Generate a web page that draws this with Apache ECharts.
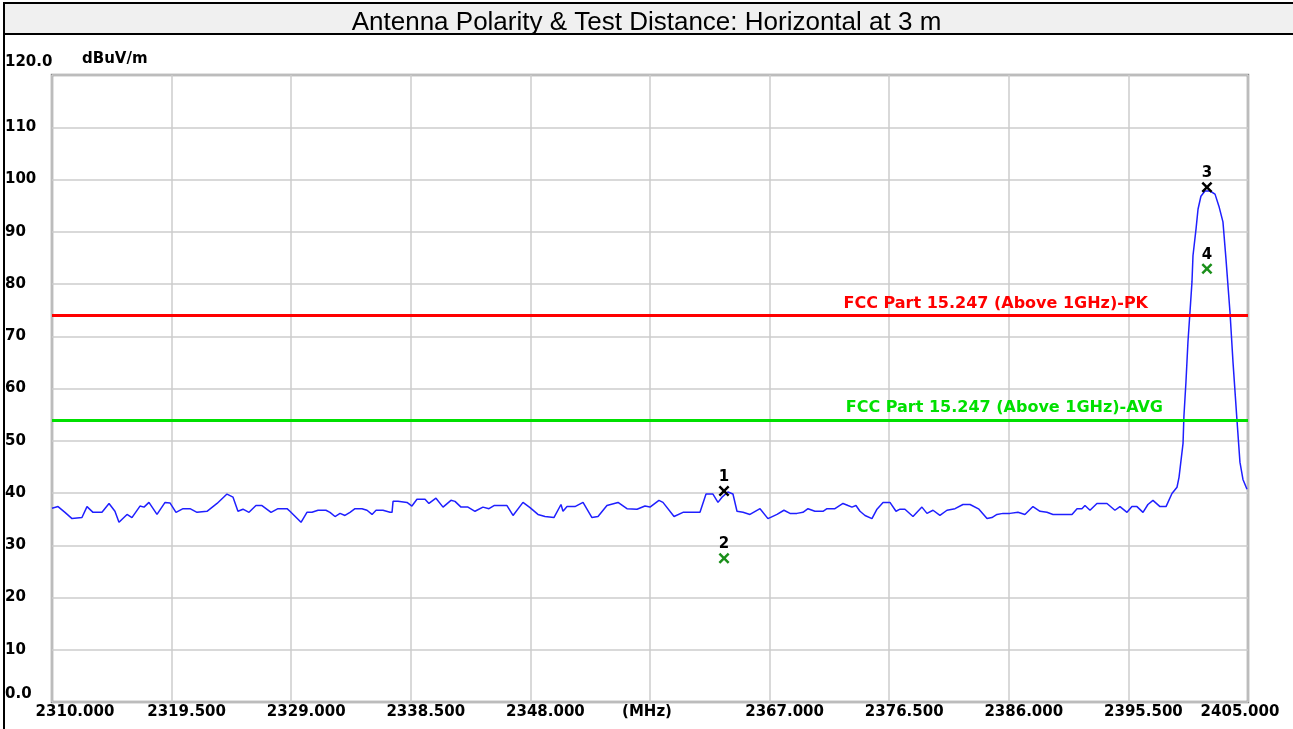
<!DOCTYPE html>
<html>
<head>
<meta charset="utf-8">
<title>Antenna Polarity & Test Distance</title>
<script src="https://cdn.jsdelivr.net/npm/echarts@6/dist/echarts.min.js"></script>
<style>
  html, body { margin: 0; padding: 0; background: #fff; }
  #chart { width: 1293px; height: 729px; }
</style>
</head>
<body>
<div id="chart"></div>
<script>
// trace (MHz, dBuV/m)
const traceFreq = [
  2310.00, 2310.48, 2311.03, 2311.59, 2312.38, 2312.78, 2313.26, 2313.97, 2314.53, 2315.00,
  2315.32, 2315.96, 2316.35, 2316.99, 2317.31, 2317.70, 2318.34, 2318.98, 2319.37, 2319.85,
  2320.41, 2320.96, 2321.52, 2322.31, 2323.11, 2323.90, 2324.38, 2324.77, 2325.17, 2325.65,
  2326.20, 2326.68, 2327.40, 2327.95, 2328.67, 2328.90, 2329.78, 2330.25, 2330.65, 2331.13,
  2331.76, 2332.08, 2332.48, 2332.88, 2333.27, 2333.67, 2334.07, 2334.62, 2335.02, 2335.42,
  2335.74, 2336.29, 2336.85, 2337.01, 2337.09, 2337.48, 2338.20, 2338.59, 2338.99, 2339.63,
  2339.94, 2340.50, 2341.06, 2341.69, 2342.01, 2342.49, 2343.04, 2343.60, 2344.23, 2344.71,
  2345.11, 2345.74, 2346.14, 2346.62, 2347.41, 2347.97, 2348.60, 2349.16, 2349.87, 2350.43,
  2350.59, 2350.91, 2351.54, 2352.18, 2352.89, 2353.37, 2354.08, 2354.96, 2355.67, 2356.47,
  2357.10, 2357.50, 2358.21, 2358.53, 2359.41, 2360.12, 2361.47, 2361.95, 2362.50, 2362.90,
  2363.22, 2363.69, 2364.09, 2364.41, 2364.89, 2365.44, 2366.24, 2366.87, 2367.59, 2368.14,
  2368.62, 2369.17, 2369.65, 2370.05, 2370.60, 2371.24, 2371.56, 2372.19, 2372.83, 2373.23,
  2373.54, 2373.86, 2374.18, 2374.58, 2375.13, 2375.53, 2376.01, 2376.56, 2377.04, 2377.36,
  2377.75, 2378.39, 2379.10, 2379.50, 2379.98, 2380.53, 2381.09, 2381.73, 2382.36, 2382.92,
  2383.63, 2384.27, 2384.66, 2385.06, 2385.54, 2386.09, 2386.73, 2387.28, 2387.92, 2388.48,
  2389.03, 2389.51, 2390.07, 2391.02, 2391.42, 2391.81, 2392.05, 2392.45, 2393.00, 2393.80,
  2394.43, 2394.83, 2395.39, 2395.78, 2396.18, 2396.66, 2397.05, 2397.45, 2398.01, 2398.49,
  2398.96, 2399.36, 2399.52, 2399.84, 2399.91, 2400.07, 2400.23, 2400.39, 2400.55, 2400.63,
  2400.87, 2401.03, 2401.26, 2401.58, 2401.98, 2402.38, 2402.69, 2403.01, 2403.25, 2403.57,
  2403.81, 2404.12, 2404.36, 2404.60, 2404.92
];
const traceLevel = [
  37.1, 37.4, 36.3, 35.1, 35.3, 37.4, 36.3, 36.3, 38.0, 36.5,
  34.4, 35.9, 35.3, 37.5, 37.3, 38.2, 35.9, 38.2, 38.1, 36.3,
  37.0, 37.0, 36.3, 36.5, 38.0, 39.8, 39.2, 36.5, 36.9, 36.3,
  37.6, 37.6, 36.3, 37.0, 37.0, 36.5, 34.4, 36.3, 36.3, 36.7,
  36.7, 36.3, 35.5, 36.1, 35.7, 36.3, 37.0, 37.0, 36.7, 35.9,
  36.7, 36.7, 36.3, 36.3, 38.4, 38.4, 38.2, 37.5, 38.8, 38.8,
  38.0, 39.0, 37.3, 38.6, 38.4, 37.3, 37.3, 36.5, 37.3, 37.0,
  37.6, 37.6, 37.6, 35.7, 38.2, 37.2, 35.9, 35.5, 35.3, 37.8,
  36.5, 37.4, 37.4, 38.2, 35.3, 35.5, 37.6, 38.2, 37.0, 36.9,
  37.5, 37.3, 38.6, 38.2, 35.5, 36.3, 36.3, 39.8, 39.8, 38.2,
  39.2, 40.2, 39.8, 36.5, 36.3, 35.9, 37.0, 35.1, 35.9, 36.7,
  36.1, 36.1, 36.3, 37.0, 36.5, 36.5, 37.0, 37.0, 38.0, 37.6,
  37.3, 37.6, 36.5, 35.7, 35.1, 36.9, 38.2, 38.2, 36.5, 36.9,
  36.9, 35.5, 37.3, 36.1, 36.7, 35.7, 36.7, 37.0, 37.8, 37.8,
  36.9, 35.1, 35.3, 35.9, 36.1, 36.1, 36.3, 35.9, 37.4, 36.5,
  36.3, 35.9, 35.9, 35.9, 37.0, 37.0, 37.6, 36.7, 38.0, 38.0,
  36.7, 37.4, 36.3, 37.4, 37.4, 36.3, 37.8, 38.6, 37.4, 37.4,
  39.9, 41.1, 43.0, 49.5, 54.7, 61.2, 68.9, 74.6, 80.4, 85.4,
  90.5, 94.3, 96.8, 97.8, 97.8, 97.2, 94.9, 91.9, 84.8, 74.6,
  65.0, 54.1, 45.9, 42.6, 40.7
];

// limit lines
const limitNames = ['FCC Part 15.247 (Above 1GHz)-PK', 'FCC Part 15.247 (Above 1GHz)-AVG'];
const limitLevels = [74, 54];
const limitColors = ['#ff0000', '#00e000'];

// markers: peak readings (black) and average readings (green)
const peakNo = ['1', '3'];
const peakFreq = [2363.38, 2401.74];
const peakLevel = [40.4, 98.5];
const avgNo = ['2', '4'];
const avgFreq = [2363.38, 2401.74];
const avgLevel = [27.5, 82.9];

const xMin = 2310, xMax = 2405, xStep = 9.5;
const yMin = 0, yMax = 120, yStep = 10;

const cross = 'path://M0,1.6L1.6,0L5,3.4L8.4,0L10,1.6L6.6,5L10,8.4L8.4,10L5,6.6L1.6,10L0,8.4L3.4,5Z';
const labelFont = 'DejaVu Sans';

const chart = echarts.init(document.getElementById('chart'));

const markerSeries = (nums, freqs, levels, color) => ({
  type: 'scatter',
  symbol: cross,
  symbolSize: 11,
  itemStyle: { color: color, opacity: 1 },
  label: {
    show: true,
    position: 'top',
    distance: 1,
    formatter: p => p.data.name,
    color: '#000',
    fontFamily: labelFont,
    fontWeight: 'bold',
    fontSize: 15
  },
  z: 5,
  data: freqs.map((f, i) => ({ name: nums[i], value: [f, levels[i]] }))
});

chart.setOption({
  animation: false,
  title: {
    text: 'Antenna Polarity & Test Distance: Horizontal at 3 m',
    left: 'center',
    top: 5,
    textStyle: { fontFamily: 'Liberation Sans', fontSize: 26, fontWeight: 'normal', color: '#000' }
  },
  graphic: [
    { type: 'rect', shape: { x: 4, y: 3, width: 1300, height: 31 }, style: { fill: '#f0f0f0', stroke: '#000', lineWidth: 2 }, z: -1 },
    { type: 'line', shape: { x1: 4, y1: 3, x2: 4, y2: 729 }, style: { stroke: '#000', lineWidth: 2 } }
  ],
  grid: {
    left: 52, right: 45, top: 75, bottom: 27,
    show: true, borderColor: '#8a8a8a', borderWidth: 2.5
  },
  xAxis: {
    type: 'value',
    min: xMin, max: xMax, interval: xStep,
    axisLine: { show: false },
    axisTick: { show: false },
    splitLine: { lineStyle: { color: '#cccccc', width: 1.5 } },
    axisLabel: {
      margin: 3,
      showMinLabel: true, showMaxLabel: true,
      formatter: v => {
        if (Math.abs(v - 2357.5) < 0.01) return '{u|(MHz)}';
        if (v === xMin) return '{f|' + v.toFixed(3) + '}';
        if (v === xMax) return '{e|' + v.toFixed(3) + '}';
        return '{n|' + v.toFixed(3) + '}';
      },
      rich: {
        n: { fontFamily: labelFont, fontWeight: 'bold', fontSize: 15, color: '#000', padding: [0, 0, 0, 30] },
        f: { fontFamily: labelFont, fontWeight: 'bold', fontSize: 15, color: '#000', padding: [0, 0, 0, 46] },
        e: { fontFamily: labelFont, fontWeight: 'bold', fontSize: 15, color: '#000', padding: [0, 16, 0, 0] },
        u: { fontFamily: labelFont, fontWeight: 'bold', fontSize: 15, color: '#000', padding: [0, 6, 0, 0] }
      }
    }
  },
  yAxis: {
    type: 'value',
    min: yMin, max: yMax, interval: yStep,
    name: 'dBuV/m',
    nameLocation: 'end',
    nameGap: 8,
    nameTextStyle: { fontFamily: labelFont, fontWeight: 'bold', fontSize: 15, color: '#000', align: 'left', padding: [0, 0, 0, 30] },
    axisLine: { show: false },
    axisTick: { show: false },
    splitLine: { lineStyle: { color: '#cccccc', width: 1.5 } },
    axisLabel: {
      align: 'left',
      margin: 47,
      formatter: v => {
        if (v === yMax) return '{t|' + v.toFixed(1) + '}';
        if (v === yMin) return '{b|' + v.toFixed(1) + '}';
        return '{n|' + v + '}';
      },
      rich: {
        n: { fontFamily: labelFont, fontWeight: 'bold', fontSize: 15, color: '#000' },
        t: { fontFamily: labelFont, fontWeight: 'bold', fontSize: 15, color: '#000', padding: [0, 0, 26, 0] },
        b: { fontFamily: labelFont, fontWeight: 'bold', fontSize: 15, color: '#000', padding: [0, 0, 16, 0] }
      }
    }
  },
  series: [
    {
      type: 'line',
      data: traceFreq.map((f, i) => [f, traceLevel[i]]),
      showSymbol: false,
      lineStyle: { color: '#1f1fff', width: 1.5 },
      z: 3,
      markLine: {
        silent: true,
        symbol: 'none',
        data: limitLevels.map((lv, i) => ({
          yAxis: lv,
          lineStyle: { color: limitColors[i], width: 3, type: 'solid' },
          label: {
            show: true,
            position: 'insideEndTop',
            distance: i === 0 ? [100, 4] : [85, 4],
            formatter: limitNames[i],
            color: limitColors[i],
            fontFamily: labelFont,
            fontWeight: 'bold',
            fontSize: 16
          }
        }))
      }
    },
    markerSeries(peakNo, peakFreq, peakLevel, '#000000'),
    markerSeries(avgNo, avgFreq, avgLevel, '#1a8f1a')
  ]
});
</script>
</body>
</html>
